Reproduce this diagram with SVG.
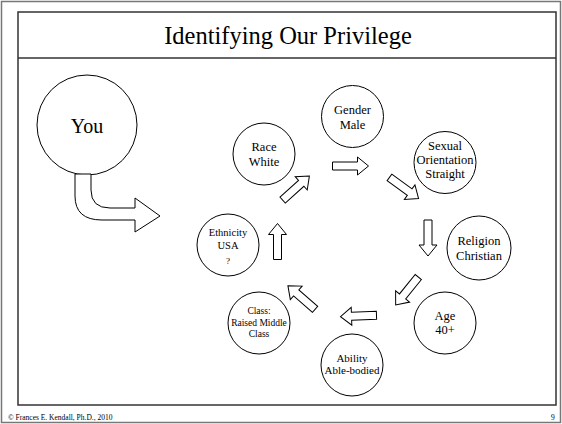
<svg xmlns="http://www.w3.org/2000/svg" width="562" height="424" viewBox="0 0 562 424">
<defs>
<style>
.frame{fill:none;stroke:#777;stroke-width:1.5}
.panel{fill:#fff;stroke:#333;stroke-width:1.5}
.node circle{fill:#fff;stroke:#000;stroke-width:1}
.t{font-family:"Liberation Serif","Times New Roman",serif;fill:#000;text-anchor:middle}
.f{font-family:"Liberation Serif","Times New Roman",serif;fill:#000;font-size:7.5px}
.blk{fill:#fff;stroke:#000;stroke-width:1;stroke-linejoin:miter}
</style>
<path id="ar" d="M-18,-4 L7,-4 L7,-9 L18,0 L7,9 L7,4 L-18,4 Z"/>
</defs>
<rect width="562" height="424" fill="#fff"/>
<rect class="frame" x="1.5" y="1.5" width="559" height="421"/>
<rect class="panel" x="18" y="12" width="538" height="393"/>
<line x1="18" y1="58" x2="556" y2="58" stroke="#333" stroke-width="1.5"/>
<text class="t" x="288" y="44" font-size="24.5">Identifying Our Privilege</text>
<text class="f" x="8" y="420">© Frances E. Kendall, Ph.D., 2010</text>
<text class="f" x="551" y="420">9</text>

<g id="you" class="node"><circle cx="87" cy="125" r="50"/><text class="t" x="87" y="133" font-size="20">You</text></g>
<g id="race" class="node"><circle cx="264" cy="154" r="31"/><text class="t" x="264" y="151" font-size="12.5">Race</text><text class="t" x="264" y="166" font-size="12.5">White</text></g>
<g id="gender" class="node"><circle cx="352.5" cy="116.5" r="31"/><text class="t" x="352.5" y="114" font-size="12.5">Gender</text><text class="t" x="352.5" y="129" font-size="12.5">Male</text></g>
<g id="sexual" class="node"><circle cx="445" cy="162.5" r="31"/><text class="t" x="445" y="150" font-size="12.5">Sexual</text><text class="t" x="445" y="164" font-size="12.5">Orientation</text><text class="t" x="445" y="178" font-size="12.5">Straight</text></g>
<g id="religion" class="node"><circle cx="479" cy="248" r="32"/><text class="t" x="479" y="245" font-size="12.5">Religion</text><text class="t" x="479" y="260" font-size="12.5">Christian</text></g>
<g id="age" class="node"><circle cx="445" cy="323" r="31"/><text class="t" x="445" y="320" font-size="12.5">Age</text><text class="t" x="445" y="334" font-size="12.5">40+</text></g>
<g id="ability" class="node"><circle cx="352" cy="365" r="31"/><text class="t" x="352" y="362" font-size="11">Ability</text><text class="t" x="352" y="374" font-size="11">Able-bodied</text></g>
<g id="class" class="node"><circle cx="259" cy="323" r="31"/><text class="t" x="259" y="314" font-size="9.5">Class:</text><text class="t" x="259" y="326" font-size="9.5">Raised Middle</text><text class="t" x="259" y="337" font-size="9.5">Class</text></g>
<g id="ethnicity" class="node"><circle cx="228" cy="245" r="31"/><text class="t" x="228" y="236" font-size="10.5">Ethnicity</text><text class="t" x="228" y="249" font-size="10.5">USA</text><text class="t" x="228" y="264" font-size="9">?</text></g>

<g id="connectors">
<path class="blk" d="M75,174 L75,196 Q75,220 102,220 L135,220 L135,232 L160,216 L135,198 L135,208 L110,208 Q91,208 91,190 L91,174 Z"/>
<use href="#ar" class="blk" transform="translate(350.5,166)"/>
<use href="#ar" class="blk" transform="translate(404,188) rotate(36)"/>
<use href="#ar" class="blk" transform="translate(428,238) rotate(90)"/>
<use href="#ar" class="blk" transform="translate(407,291) rotate(129)"/>
<use href="#ar" class="blk" transform="translate(358.5,316) rotate(178)"/>
<use href="#ar" class="blk" transform="translate(301.5,297.5) rotate(221)"/>
<use href="#ar" class="blk" transform="translate(277.5,241.5) rotate(-90)"/>
<use href="#ar" class="blk" transform="translate(296,188) rotate(-42)"/>
</g>
</svg>
